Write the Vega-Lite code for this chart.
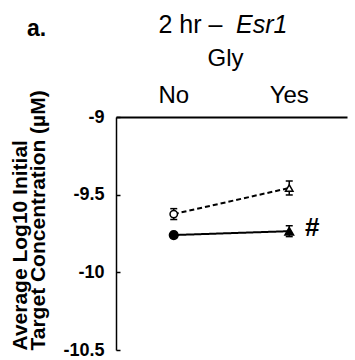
{
  "$schema": "https://vega.github.io/schema/vega-lite/v6.json",
  "padding": {"left": 9, "top": 13, "right": 5, "bottom": 5},
  "config": {"font": "Liberation Sans", "view": {"stroke": null}},
  "title": {"text": "a.", "anchor": "start", "frame": "group", "fontSize": 23, "fontWeight": "bold", "color": "black", "offset": -28, "dx": -89},
  "vconcat": [
    {
      "title": {"text": "Esr1", "anchor": "start", "align": "left", "fontSize": 25, "fontWeight": "normal", "fontStyle": "italic", "color": "black", "offset": -25, "dx": 226},
      "vconcat": [
        {
          "width": 231,
          "height": 233,
          "title": {"text": "2 hr –", "anchor": "middle", "align": "left", "dx": -73, "fontSize": 25, "fontWeight": "normal", "color": "black", "offset": 8},
          "data": {
            "values": [
              {"Gly": "No", "group": "A", "mean": -9.625, "lo": -9.66, "hi": -9.59, "sig": ""},
              {"Gly": "Yes", "group": "A", "mean": -9.457, "lo": -9.502, "hi": -9.412, "sig": ""},
              {"Gly": "No", "group": "B", "mean": -9.76, "lo": -9.775, "hi": -9.745, "sig": ""},
              {"Gly": "Yes", "group": "B", "mean": -9.735, "lo": -9.77, "hi": -9.7, "sig": "#"}
            ]
          },
          "encoding": {
            "x": {
              "field": "Gly",
              "type": "nominal",
              "scale": {"domain": ["No", "Yes"]},
              "axis": {
                "orient": "top",
                "title": "Gly",
                "titleFontSize": 24,
                "titleFontWeight": "normal",
                "titleColor": "black",
                "titlePadding": 13,
                "titleX": 109,
                "labelFontSize": 24,
                "labelColor": "black",
                "labelAngle": 0,
                "labelPadding": 10,
                "ticks": false,
                "domainColor": "black",
                "domainWidth": 2
              }
            }
          },
          "layer": [
            {
              "mark": {"type": "line", "color": "black", "strokeWidth": 2},
              "encoding": {
                "y": {
                  "field": "mean",
                  "type": "quantitative",
                  "scale": {"domain": [-10.5, -9], "nice": false, "zero": false},
                  "axis": {
                    "orient": "left",
                    "values": [-9, -9.5, -10, -10.5],
                    "labelExpr": "'' + datum.value",
                    "labelFontSize": 18,
                    "labelFontWeight": "bold",
                    "labelColor": "black",
                    "labelFlush": false,
                    "labelPadding": 16,
                    "tickSize": -4,
                    "tickColor": "black",
                    "tickWidth": 1.5,
                    "domainColor": "black",
                    "domainWidth": 1.5,
                    "grid": false,
                    "title": ["Average Log10 Initial", "Target Concentration (µM)"],
                    "titleFontSize": 21,
                    "titleFontWeight": "bold",
                    "titleColor": "black",
                    "titleAnchor": "start",
                    "titleAlign": "left",
                    "titleLineHeight": 18,
                    "titlePadding": 14
                  }
                },
                "detail": {"field": "group", "type": "nominal"},
                "strokeDash": {"field": "group", "type": "nominal", "scale": {"domain": ["A", "B"], "range": [[5, 3], [1, 0]]}, "legend": null}
              }
            },
            {
              "mark": {"type": "rule", "color": "black", "strokeWidth": 1.5},
              "encoding": {
                "y": {"field": "lo", "type": "quantitative", "scale": {"domain": [-10.5, -9], "nice": false, "zero": false}},
                "y2": {"field": "hi"}
              }
            },
            {
              "mark": {"type": "tick", "color": "black", "thickness": 1.5, "size": 7, "opacity": 1},
              "encoding": {
                "y": {"field": "lo", "type": "quantitative", "scale": {"domain": [-10.5, -9], "nice": false, "zero": false}}
              }
            },
            {
              "mark": {"type": "tick", "color": "black", "thickness": 1.5, "size": 7, "opacity": 1},
              "encoding": {
                "y": {"field": "hi", "type": "quantitative", "scale": {"domain": [-10.5, -9], "nice": false, "zero": false}}
              }
            },
            {
              "mark": {"type": "point", "stroke": "black", "strokeWidth": 1.5, "opacity": 1, "fillOpacity": 1},
              "encoding": {
                "y": {"field": "mean", "type": "quantitative", "scale": {"domain": [-10.5, -9], "nice": false, "zero": false}},
                "shape": {"field": "Gly", "type": "nominal", "scale": {"domain": ["No", "Yes"], "range": ["circle", "triangle-up"]}, "legend": null},
                "fill": {"field": "group", "type": "nominal", "scale": {"domain": ["A", "B"], "range": ["white", "black"]}, "legend": null},
                "size": {"field": "group", "type": "ordinal", "scale": {"domain": ["A", "B"], "range": [55, 75]}, "legend": null}
              }
            },
            {
              "transform": [{"filter": "datum.sig != ''"}],
              "mark": {"type": "text", "dx": 23, "dy": 5, "fontSize": 26, "fontWeight": "bold", "baseline": "alphabetic", "align": "center", "color": "black"},
              "encoding": {
                "y": {"field": "mean", "type": "quantitative", "scale": {"domain": [-10.5, -9], "nice": false, "zero": false}},
                "text": {"field": "sig"}
              }
            }
          ]
        }
      ]
    }
  ]
}
